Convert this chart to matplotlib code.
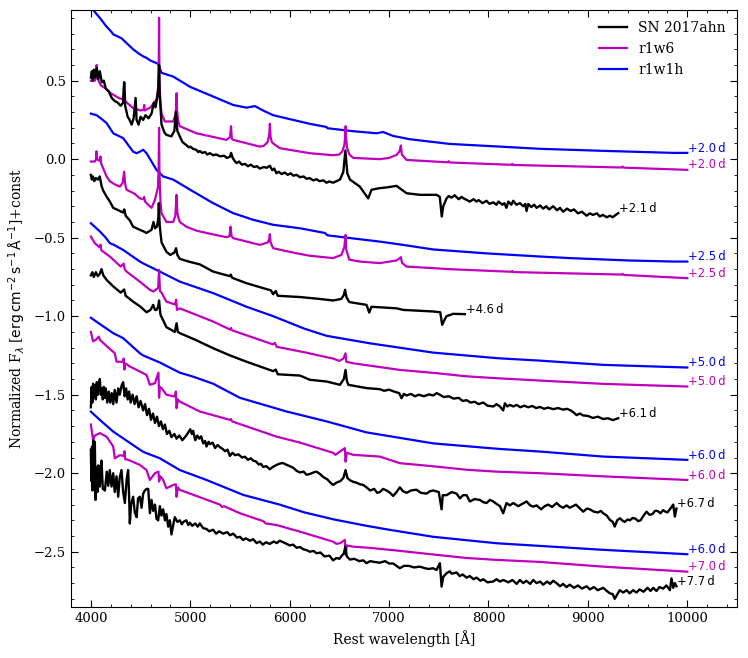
import matplotlib
matplotlib.use("Agg")
import matplotlib.pyplot as plt
from matplotlib.ticker import MultipleLocator
import numpy as np

plt.rcParams["font.family"] = "serif"
plt.rcParams["font.serif"] = ["DejaVu Serif"]
plt.rcParams["mathtext.fontset"] = "dejavusans"

# ---- observed spectra SN 2017ahn (wavelength [A], normalized flux + const) ----
sn_21 = np.array([
    (4000, 0.52), (4010, 0.56), (4020, 0.50), (4030, 0.57), (4045, 0.52), (4060, 0.58),
    (4075, 0.51), (4090, 0.56), (4110, 0.49), (4130, 0.50), (4150, 0.45), (4180, 0.43),
    (4210, 0.39), (4240, 0.37), (4270, 0.36), (4300, 0.34), (4325, 0.36), (4335, 0.49),
    (4345, 0.34), (4370, 0.27), (4390, 0.25), (4410, 0.22), (4430, 0.26), (4450, 0.39),
    (4460, 0.25), (4480, 0.22), (4500, 0.27), (4526, 0.25), (4550, 0.28), (4580, 0.26),
    (4610, 0.29), (4634, 0.36), (4650, 0.33), (4670, 0.40), (4680, 0.47), (4686, 0.60),
    (4692, 0.42), (4711, 0.22), (4740, 0.17), (4760, 0.155), (4810, 0.145), (4840, 0.18),
    (4855, 0.30), (4870, 0.18), (4895, 0.145), (4920, 0.11), (4940, 0.10), (4960, 0.09),
    (4985, 0.075), (5000, 0.08), (5030, 0.065), (5060, 0.06), (5080, 0.045), (5096, 0.052),
    (5120, 0.04), (5150, 0.045), (5170, 0.03), (5197, 0.038), (5230, 0.025), (5260, 0.03),
    (5300, 0.018), (5340, 0.022), (5370, 0.008), (5398, 0.015), (5411, 0.04), (5425, 0.01),
    (5445, -0.01), (5466, -0.025), (5490, -0.015), (5520, -0.035), (5550, -0.03),
    (5580, -0.045), (5610, -0.035), (5640, -0.05), (5670, -0.045), (5700, -0.06),
    (5740, -0.05), (5770, -0.055), (5800, -0.042), (5825, -0.07), (5845, -0.06),
    (5867, -0.09), (5890, -0.08), (5920, -0.095), (5950, -0.085), (5980, -0.10),
    (6010, -0.09), (6035, -0.105), (6070, -0.10), (6103, -0.115), (6140, -0.11),
    (6170, -0.125), (6200, -0.12), (6237, -0.135), (6270, -0.128), (6300, -0.14),
    (6340, -0.135), (6370, -0.15), (6400, -0.142), (6437, -0.15), (6470, -0.14),
    (6506, -0.13), (6540, -0.08), (6560, 0.055), (6580, -0.09), (6607, -0.13),
    (6706, -0.175), (6790, -0.25), (6823, -0.195), (6900, -0.185), (6975, -0.18),
    (7075, -0.17), (7176, -0.217), (7310, -0.227), (7478, -0.227), (7510, -0.24),
    (7530, -0.365), (7545, -0.30), (7578, -0.25), (7600, -0.235), (7629, -0.245),
    (7660, -0.23), (7700, -0.255), (7730, -0.24), (7750, -0.25), (7780, -0.26),
    (7812, -0.27), (7850, -0.255), (7880, -0.27), (7900, -0.26), (7940, -0.28),
    (7980, -0.265), (8010, -0.285), (8047, -0.275), (8080, -0.29), (8100, -0.27),
    (8140, -0.29), (8160, -0.28), (8180, -0.31), (8200, -0.27), (8230, -0.29),
    (8249, -0.265), (8280, -0.29), (8316, -0.28), (8350, -0.30), (8370, -0.285),
    (8383, -0.33), (8400, -0.285), (8430, -0.305), (8460, -0.29), (8484, -0.31),
    (8520, -0.295), (8550, -0.315), (8580, -0.30), (8610, -0.32), (8650, -0.30),
    (8690, -0.325), (8720, -0.31), (8750, -0.335), (8790, -0.315), (8827, -0.33),
    (8860, -0.32), (8900, -0.345), (8940, -0.335), (8987, -0.36), (9020, -0.345),
    (9050, -0.355), (9090, -0.345), (9120, -0.365), (9150, -0.355), (9190, -0.37),
    (9221, -0.36), (9250, -0.37), (9280, -0.355), (9305, -0.344)])

sn_46 = np.array([
    (4000, -0.10), (4010, -0.13), (4020, -0.11), (4035, -0.14), (4050, -0.12), (4070, -0.13),
    (4090, -0.11), (4107, -0.17), (4124, -0.20), (4160, -0.24), (4191, -0.27), (4225, -0.31),
    (4292, -0.33), (4325, -0.34), (4336, -0.32), (4350, -0.36), (4392, -0.39), (4425, -0.43),
    (4493, -0.45), (4530, -0.46), (4560, -0.47), (4610, -0.45), (4630, -0.40), (4645, -0.44),
    (4665, -0.43), (4678, -0.38), (4684, -0.28), (4692, -0.42), (4711, -0.53), (4760, -0.59),
    (4800, -0.61), (4840, -0.595), (4857, -0.567), (4870, -0.61), (4895, -0.635),
    (5000, -0.655), (5096, -0.67), (5230, -0.716), (5398, -0.745), (5408, -0.735),
    (5420, -0.755), (5566, -0.79), (5780, -0.83), (5810, -0.835), (5834, -0.86),
    (5860, -0.84), (5880, -0.87), (6103, -0.878), (6300, -0.89), (6437, -0.90),
    (6520, -0.89), (6545, -0.865), (6557, -0.832), (6572, -0.88), (6600, -0.91),
    (6773, -0.928), (6800, -0.977), (6823, -0.94), (7075, -0.95), (7142, -0.96),
    (7444, -0.97), (7515, -0.975), (7534, -1.055), (7560, -1.02), (7578, -1.0),
    (7645, -0.985), (7762, -0.987)])

sn_61 = np.array([
    (4000, -0.74), (4015, -0.72), (4030, -0.75), (4050, -0.72), (4070, -0.745), (4090, -0.73),
    (4107, -0.70), (4125, -0.74), (4160, -0.77), (4225, -0.81), (4300, -0.85), (4335, -0.83),
    (4350, -0.87), (4425, -0.907), (4500, -0.94), (4560, -0.975), (4600, -0.96),
    (4627, -0.928), (4645, -0.96), (4660, -0.96), (4677, -0.94), (4686, -0.90), (4700, -0.99),
    (4760, -1.07), (4845, -1.10), (4862, -1.045), (4875, -1.10), (4895, -1.108),
    (5050, -1.15), (5230, -1.204), (5400, -1.25), (5566, -1.29), (5700, -1.32),
    (5834, -1.35), (5860, -1.34), (5880, -1.37), (6103, -1.378), (6203, -1.405),
    (6371, -1.416), (6506, -1.437), (6545, -1.40), (6562, -1.342), (6575, -1.41),
    (6590, -1.437), (6773, -1.458), (6907, -1.465), (6950, -1.475), (7000, -1.468),
    (7050, -1.48), (7102, -1.49), (7125, -1.522), (7150, -1.495), (7176, -1.505),
    (7220, -1.495), (7260, -1.51), (7300, -1.50), (7350, -1.51), (7400, -1.498),
    (7444, -1.505), (7478, -1.49), (7510, -1.50), (7550, -1.515), (7600, -1.51),
    (7650, -1.525), (7700, -1.52), (7740, -1.54), (7780, -1.535), (7820, -1.55),
    (7860, -1.545), (7900, -1.56), (7946, -1.55), (7990, -1.57), (8050, -1.575),
    (8080, -1.56), (8115, -1.575), (8148, -1.60), (8165, -1.555), (8190, -1.575),
    (8215, -1.565), (8250, -1.575), (8283, -1.565), (8320, -1.58), (8360, -1.57),
    (8400, -1.58), (8440, -1.572), (8480, -1.585), (8517, -1.578), (8560, -1.59),
    (8600, -1.582), (8650, -1.592), (8700, -1.585), (8750, -1.595), (8790, -1.59),
    (8827, -1.60), (8860, -1.615), (8886, -1.63), (8920, -1.62), (8950, -1.632),
    (9000, -1.635), (9050, -1.648), (9100, -1.64), (9154, -1.655), (9200, -1.65),
    (9254, -1.662), (9280, -1.655), (9305, -1.65)])

sn_67 = np.array([
    (4000, -1.58), (4008, -1.45), (4015, -1.55), (4023, -1.43), (4032, -1.52), (4040, -1.44),
    (4050, -1.53), (4060, -1.42), (4070, -1.50), (4080, -1.44), (4090, -1.40), (4100, -1.50),
    (4110, -1.46), (4120, -1.53), (4130, -1.45), (4140, -1.52), (4150, -1.46), (4165, -1.55),
    (4180, -1.48), (4195, -1.55), (4210, -1.49), (4225, -1.56), (4240, -1.47), (4258, -1.55),
    (4275, -1.46), (4290, -1.50), (4310, -1.44), (4325, -1.42), (4340, -1.51), (4355, -1.46),
    (4370, -1.53), (4385, -1.48), (4400, -1.55), (4420, -1.50), (4440, -1.56), (4460, -1.51),
    (4480, -1.58), (4500, -1.54), (4526, -1.60), (4545, -1.56), (4565, -1.63), (4585, -1.59),
    (4605, -1.66), (4625, -1.62), (4645, -1.68), (4665, -1.64), (4685, -1.70), (4705, -1.67),
    (4725, -1.72), (4745, -1.69), (4765, -1.75), (4790, -1.73), (4810, -1.77), (4840, -1.75),
    (4862, -1.78), (4890, -1.76), (4920, -1.79), (4960, -1.76), (5000, -1.72), (5015, -1.75),
    (5029, -1.73), (5050, -1.79), (5070, -1.76), (5090, -1.78), (5110, -1.765),
    (5130, -1.81), (5150, -1.795), (5163, -1.83), (5185, -1.80), (5200, -1.815),
    (5225, -1.805), (5250, -1.84), (5275, -1.82), (5300, -1.835), (5325, -1.845),
    (5350, -1.86), (5375, -1.85), (5398, -1.89), (5425, -1.87), (5450, -1.885),
    (5485, -1.88), (5520, -1.90), (5550, -1.895), (5580, -1.915), (5610, -1.905),
    (5633, -1.92), (5660, -1.925), (5690, -1.945), (5710, -1.94), (5733, -1.96),
    (5765, -1.955), (5800, -1.975), (5830, -1.96), (5860, -1.95), (5895, -1.94),
    (5930, -1.935), (5965, -1.945), (6000, -1.955), (6035, -1.965), (6070, -1.985),
    (6103, -1.995), (6140, -1.99), (6170, -2.01), (6203, -2.005), (6240, -1.995),
    (6270, -1.99), (6305, -2.005), (6340, -2.025), (6380, -2.04), (6410, -2.06),
    (6437, -2.075), (6470, -2.06), (6510, -2.05), (6540, -2.03), (6562, -1.98),
    (6580, -2.03), (6607, -2.045), (6640, -2.055), (6670, -2.06), (6706, -2.07),
    (6740, -2.075), (6773, -2.09), (6810, -2.11), (6850, -2.10), (6880, -2.125),
    (6907, -2.12), (6940, -2.10), (6975, -2.11), (7010, -2.125), (7041, -2.145),
    (7075, -2.12), (7108, -2.09), (7140, -2.115), (7176, -2.125), (7220, -2.11),
    (7276, -2.105), (7320, -2.125), (7377, -2.13), (7410, -2.115), (7444, -2.11),
    (7500, -2.12), (7528, -2.23), (7540, -2.14), (7578, -2.14), (7630, -2.12),
    (7679, -2.13), (7712, -2.16), (7745, -2.14), (7780, -2.14), (7812, -2.18),
    (7860, -2.165), (7913, -2.17), (7950, -2.185), (7980, -2.19), (8015, -2.17),
    (8047, -2.18), (8080, -2.195), (8115, -2.21), (8148, -2.255), (8181, -2.19),
    (8215, -2.205), (8249, -2.19), (8300, -2.21), (8340, -2.195), (8383, -2.18),
    (8420, -2.205), (8450, -2.213), (8484, -2.205), (8530, -2.23), (8565, -2.21),
    (8600, -2.20), (8640, -2.215), (8685, -2.19), (8720, -2.21), (8750, -2.22),
    (8785, -2.205), (8817, -2.22), (8850, -2.21), (8880, -2.20), (8920, -2.225),
    (8953, -2.245), (8990, -2.225), (9020, -2.23), (9060, -2.245), (9100, -2.25),
    (9130, -2.24), (9154, -2.255), (9190, -2.27), (9221, -2.297), (9250, -2.31),
    (9270, -2.34), (9295, -2.30), (9321, -2.287), (9345, -2.30), (9370, -2.31),
    (9400, -2.295), (9422, -2.30), (9450, -2.285), (9480, -2.29), (9505, -2.305),
    (9530, -2.30), (9560, -2.27), (9590, -2.245), (9620, -2.265), (9650, -2.26),
    (9675, -2.24), (9700, -2.24), (9730, -2.255), (9757, -2.235), (9780, -2.245),
    (9800, -2.25), (9830, -2.225), (9858, -2.20), (9875, -2.276), (9891, -2.225)])

sn_77 = np.array([
    (4000, -1.85), (4005, -2.05), (4012, -1.83), (4017, -2.11), (4023, -1.79), (4032, -2.03),
    (4040, -1.80), (4047, -2.17), (4057, -1.96), (4066, -2.12), (4075, -1.95), (4090, -2.085),
    (4100, -1.97), (4107, -1.92), (4120, -2.10), (4141, -2.11), (4160, -1.99), (4175, -2.08),
    (4190, -1.98), (4208, -2.085), (4225, -2.0), (4240, -2.12), (4258, -2.02), (4275, -2.15),
    (4290, -2.03), (4308, -1.98), (4325, -2.12), (4342, -2.19), (4360, -2.04), (4375, -1.98),
    (4385, -2.15), (4392, -2.32), (4405, -2.20), (4425, -2.15), (4442, -2.25), (4460, -2.28),
    (4475, -2.16), (4493, -2.15), (4510, -2.22), (4526, -2.13), (4543, -2.11), (4560, -2.10),
    (4577, -2.10), (4594, -2.255), (4610, -2.17), (4627, -2.24), (4645, -2.20), (4660, -2.29),
    (4677, -2.30), (4694, -2.21), (4710, -2.27), (4727, -2.23), (4745, -2.30), (4760, -2.26),
    (4778, -2.34), (4795, -2.30), (4811, -2.39), (4828, -2.33), (4845, -2.28), (4870, -2.31),
    (4895, -2.30), (4915, -2.325), (4930, -2.31), (4960, -2.30), (4980, -2.33),
    (4996, -2.315), (5020, -2.335), (5050, -2.32), (5075, -2.34), (5096, -2.32),
    (5130, -2.35), (5163, -2.355), (5190, -2.37), (5230, -2.36), (5260, -2.385),
    (5290, -2.37), (5331, -2.385), (5370, -2.375), (5400, -2.395), (5432, -2.385),
    (5470, -2.41), (5500, -2.405), (5530, -2.425), (5560, -2.415), (5600, -2.43),
    (5633, -2.42), (5667, -2.445), (5700, -2.435), (5730, -2.455), (5760, -2.44),
    (5800, -2.45), (5840, -2.435), (5870, -2.445), (5900, -2.43), (5935, -2.44),
    (5970, -2.45), (6000, -2.46), (6035, -2.455), (6070, -2.475), (6103, -2.47),
    (6140, -2.485), (6170, -2.49), (6203, -2.50), (6240, -2.495), (6270, -2.51),
    (6310, -2.505), (6350, -2.53), (6400, -2.525), (6437, -2.555), (6470, -2.54),
    (6500, -2.545), (6545, -2.51), (6560, -2.468), (6575, -2.53), (6607, -2.55),
    (6650, -2.545), (6700, -2.56), (6740, -2.555), (6773, -2.573), (6810, -2.56),
    (6850, -2.565), (6907, -2.57), (6960, -2.56), (7000, -2.575), (7041, -2.575),
    (7075, -2.59), (7108, -2.605), (7150, -2.59), (7200, -2.59), (7250, -2.6),
    (7310, -2.595), (7360, -2.605), (7400, -2.61), (7440, -2.605), (7478, -2.616),
    (7511, -2.573), (7528, -2.722), (7545, -2.66), (7578, -2.637), (7610, -2.625),
    (7630, -2.64), (7679, -2.632), (7710, -2.655), (7740, -2.645), (7780, -2.665),
    (7812, -2.655), (7850, -2.675), (7880, -2.665), (7920, -2.685), (7946, -2.675),
    (7990, -2.695), (8047, -2.69), (8080, -2.675), (8115, -2.69), (8150, -2.68),
    (8200, -2.695), (8240, -2.68), (8283, -2.705), (8316, -2.68), (8350, -2.70),
    (8380, -2.685), (8420, -2.705), (8450, -2.68), (8484, -2.70), (8520, -2.69),
    (8550, -2.71), (8590, -2.69), (8620, -2.705), (8650, -2.685), (8685, -2.70),
    (8720, -2.72), (8750, -2.705), (8785, -2.725), (8817, -2.71), (8860, -2.73),
    (8900, -2.715), (8940, -2.735), (8987, -2.72), (9020, -2.74), (9060, -2.725),
    (9100, -2.745), (9154, -2.73), (9190, -2.75), (9221, -2.765), (9250, -2.77),
    (9270, -2.80), (9288, -2.78), (9320, -2.745), (9355, -2.76), (9390, -2.745),
    (9420, -2.765), (9455, -2.745), (9489, -2.76), (9520, -2.74), (9560, -2.755),
    (9600, -2.73), (9630, -2.75), (9657, -2.73), (9690, -2.75), (9720, -2.725),
    (9757, -2.735), (9790, -2.715), (9825, -2.745), (9841, -2.67), (9858, -2.73),
    (9875, -2.70), (9891, -2.72)])

# ---- model r1w6 ----
w6_20 = np.array([
    (4000, 0.50), (4040, 0.50), (4052, 0.52), (4058, 0.60), (4064, 0.52), (4100, 0.47),
    (4150, 0.45), (4200, 0.42), (4280, 0.39), (4325, 0.38), (4335, 0.49), (4345, 0.37),
    (4425, 0.325), (4500, 0.31), (4530, 0.315), (4536, 0.345), (4542, 0.31), (4600, 0.33),
    (4660, 0.38), (4675, 0.44), (4682, 0.55), (4686, 0.90), (4690, 0.50), (4700, 0.36),
    (4711, 0.29), (4745, 0.24), (4828, 0.24), (4850, 0.28), (4858, 0.33), (4862, 0.42),
    (4867, 0.31), (4880, 0.24), (4895, 0.21), (5062, 0.165), (5364, 0.123), (5400, 0.14),
    (5410, 0.21), (5418, 0.13), (5432, 0.123), (5700, 0.08), (5740, 0.085), (5780, 0.11),
    (5795, 0.16), (5801, 0.225), (5808, 0.14), (5820, 0.11), (5834, 0.10), (5900, 0.07),
    (6203, 0.038), (6436, 0.025), (6500, 0.03), (6530, 0.05), (6550, 0.09), (6558, 0.14),
    (6563, 0.21), (6568, 0.13), (6578, 0.07), (6600, 0.03), (6640, 0.008), (6907, 0.0),
    (7000, 0.008), (7075, 0.027), (7105, 0.05), (7119, 0.087), (7128, 0.03), (7176, -0.005),
    (7591, -0.02), (7600, -0.013), (7610, -0.021), (8232, -0.036), (8240, -0.03),
    (8250, -0.037), (9340, -0.053), (9350, -0.047), (9360, -0.054), (10000, -0.068)])

w6_25 = np.array([
    (4000, -0.015), (4040, -0.015), (4052, 0.0), (4057, 0.05), (4062, 0.0), (4085, -0.01),
    (4097, 0.017), (4105, -0.03), (4158, -0.11), (4191, -0.14), (4240, -0.16), (4292, -0.175),
    (4320, -0.15), (4335, -0.08), (4345, -0.16), (4360, -0.195), (4440, -0.22), (4493, -0.25),
    (4530, -0.255), (4536, -0.24), (4545, -0.27), (4560, -0.28), (4610, -0.31), (4644, -0.26),
    (4675, -0.18), (4682, -0.05), (4686, 0.20), (4690, -0.08), (4700, -0.27), (4711, -0.344),
    (4760, -0.40), (4828, -0.40), (4850, -0.36), (4862, -0.227), (4870, -0.34), (4880, -0.37),
    (4895, -0.40), (4960, -0.43), (5062, -0.455), (5163, -0.47), (5364, -0.497),
    (5395, -0.49), (5405, -0.43), (5415, -0.49), (5432, -0.503), (5700, -0.546),
    (5780, -0.53), (5795, -0.51), (5800, -0.478), (5808, -0.53), (5834, -0.567),
    (6035, -0.595), (6200, -0.615), (6437, -0.63), (6520, -0.61), (6550, -0.56),
    (6562, -0.482), (6570, -0.58), (6600, -0.64), (6706, -0.652), (6907, -0.662),
    (7075, -0.645), (7110, -0.63), (7119, -0.624), (7130, -0.66), (7176, -0.684),
    (7444, -0.694), (7591, -0.70), (8115, -0.714), (8232, -0.717), (8240, -0.712),
    (8250, -0.719), (9340, -0.735), (9350, -0.73), (9360, -0.737), (10000, -0.758)])

w6_50 = np.array([
    (4000, -0.493), (4040, -0.535), (4085, -0.56), (4097, -0.545), (4105, -0.58),
    (4191, -0.62), (4300, -0.684), (4330, -0.665), (4340, -0.70), (4360, -0.716),
    (4493, -0.78), (4594, -0.832), (4627, -0.843), (4677, -0.82), (4686, -0.705),
    (4695, -0.84), (4711, -0.85), (4760, -0.907), (4845, -0.925), (4858, -0.895),
    (4866, -0.96), (4895, -0.95), (5230, -1.034), (5400, -1.085), (5410, -1.075),
    (5420, -1.09), (5834, -1.18), (5850, -1.17), (5870, -1.195), (6150, -1.23),
    (6437, -1.27), (6500, -1.285), (6540, -1.27), (6562, -1.236), (6570, -1.29),
    (6640, -1.30), (7108, -1.342), (7478, -1.363), (7780, -1.383), (8081, -1.395),
    (8517, -1.41), (9154, -1.431), (10000, -1.448)])

w6_60 = np.array([
    (4000, -1.10), (4023, -1.16), (4050, -1.15), (4080, -1.13), (4090, -1.15), (4158, -1.19),
    (4241, -1.236), (4258, -1.29), (4325, -1.29), (4330, -1.27), (4337, -1.34), (4345, -1.30),
    (4392, -1.32), (4560, -1.374), (4594, -1.437), (4644, -1.427), (4680, -1.36),
    (4686, -1.52), (4695, -1.45), (4711, -1.458), (4760, -1.50), (4845, -1.512),
    (4855, -1.48), (4862, -1.586), (4875, -1.53), (4895, -1.544), (5096, -1.607),
    (5398, -1.66), (5410, -1.655), (5420, -1.67), (5767, -1.745), (5868, -1.767),
    (6103, -1.805), (6437, -1.87), (6460, -1.883), (6506, -1.862), (6555, -1.84),
    (6562, -1.926), (6575, -1.87), (6640, -1.883), (6907, -1.894), (7108, -1.936),
    (7478, -1.958), (7780, -1.978), (8081, -1.99), (8517, -2.0), (9154, -2.02),
    (10000, -2.043)])

w6_70 = np.array([
    (4000, -1.69), (4023, -1.79), (4040, -1.76), (4090, -1.745), (4158, -1.767),
    (4225, -1.83), (4241, -1.905), (4292, -1.885), (4330, -1.89), (4338, -1.86),
    (4345, -1.91), (4375, -1.915), (4493, -1.947), (4560, -1.98), (4594, -2.043),
    (4644, -2.0), (4680, -1.99), (4686, -2.053), (4700, -2.02), (4727, -2.043),
    (4760, -2.096), (4828, -2.075), (4855, -2.07), (4862, -2.15), (4875, -2.09),
    (4895, -2.106), (5298, -2.2), (5320, -2.215), (5340, -2.21), (5500, -2.255),
    (5733, -2.305), (5760, -2.32), (5868, -2.33), (6103, -2.372), (6437, -2.436),
    (6470, -2.45), (6506, -2.446), (6555, -2.425), (6562, -2.52), (6575, -2.46),
    (6640, -2.468), (6800, -2.475), (7041, -2.49), (7478, -2.52), (7780, -2.54),
    (8081, -2.552), (8517, -2.565), (9154, -2.595), (10000, -2.627)])

# ---- model r1w1h ----
w1h_20 = np.array([
    (4000, 0.98), (4023, 0.95), (4090, 0.90), (4150, 0.85), (4208, 0.81), (4225, 0.795),
    (4308, 0.77), (4425, 0.70), (4476, 0.675), (4526, 0.655), (4560, 0.645), (4594, 0.63),
    (4677, 0.607), (4711, 0.55), (4828, 0.526), (5000, 0.46), (5264, 0.39), (5432, 0.345),
    (5566, 0.328), (5650, 0.338), (5733, 0.31), (5834, 0.28), (6035, 0.25), (6203, 0.225),
    (6371, 0.205), (6380, 0.197), (6640, 0.178), (6874, 0.165), (6940, 0.173),
    (7040, 0.148), (7210, 0.127), (7611, 0.097), (8115, 0.08), (8517, 0.066),
    (9154, 0.053), (9858, 0.04), (10000, 0.04)])

w1h_25 = np.array([
    (4000, 0.29), (4057, 0.28), (4100, 0.26), (4158, 0.23), (4225, 0.165), (4240, 0.16),
    (4325, 0.134), (4425, 0.048), (4460, 0.038), (4500, 0.05), (4526, 0.06), (4560, 0.038),
    (4660, -0.068), (4727, -0.11), (4828, -0.13), (5029, -0.206), (5230, -0.28),
    (5432, -0.344), (5633, -0.386), (5834, -0.418), (6103, -0.44), (6354, -0.47),
    (6380, -0.485), (6640, -0.505), (6907, -0.525), (7142, -0.546), (7444, -0.575),
    (7981, -0.60), (8517, -0.62), (8817, -0.63), (9400, -0.645), (9858, -0.652),
    (10000, -0.652)])

w1h_50 = np.array([
    (4000, -0.408), (4090, -0.46), (4150, -0.50), (4191, -0.535), (4230, -0.545),
    (4325, -0.578), (4493, -0.652), (4530, -0.665), (4694, -0.716), (4895, -0.78),
    (5230, -0.853), (5566, -0.94), (5834, -1.0), (6150, -1.08), (6371, -1.125),
    (6800, -1.172), (7444, -1.232), (8100, -1.268), (8517, -1.283), (9154, -1.31),
    (10000, -1.327)])

w1h_60 = np.array([
    (4000, -1.01), (4090, -1.05), (4225, -1.108), (4325, -1.14), (4493, -1.236),
    (4526, -1.25), (4694, -1.295), (4895, -1.36), (5029, -1.385), (5230, -1.43),
    (5500, -1.52), (5969, -1.607), (6371, -1.67), (6773, -1.74), (7444, -1.81),
    (8100, -1.845), (8517, -1.862), (9154, -1.894), (10000, -1.915)])

w1h_60b = np.array([
    (4000, -1.608), (4090, -1.66), (4225, -1.735), (4260, -1.75), (4493, -1.85),
    (4530, -1.865), (4694, -1.905), (4895, -1.98), (5163, -2.043), (5532, -2.138),
    (5900, -2.2), (6150, -2.25), (6450, -2.295), (6773, -2.335), (7000, -2.36),
    (7444, -2.405), (8081, -2.446), (8517, -2.463), (9154, -2.488), (10000, -2.516)])

obs = [sn_21, sn_46, sn_61, sn_67, sn_77]
obs_epochs = ["+2.1", "+4.6", "+6.1", "+6.7", "+7.7"]
r1w6 = [w6_20, w6_25, w6_50, w6_60, w6_70]
r1w6_epochs = ["+2.0", "+2.5", "+5.0", "+6.0", "+7.0"]
r1w1h = [w1h_20, w1h_25, w1h_50, w1h_60, w1h_60b]
r1w1h_epochs = ["+2.0", "+2.5", "+5.0", "+6.0", "+6.0"]

fig = plt.figure(figsize=(7.48, 6.58), dpi=100)
ax = fig.add_axes([0.0949, 0.078, 0.8904, 0.9068])


def label(spec, txt, col):
    ax.annotate(txt + "\u2009d", xy=(spec[-1, 0], spec[-1, 1]), xytext=(0.5, 3.5),
                textcoords="offset points", ha="left", va="center", fontsize=8.3,
                color=col, family="DejaVu Sans")


for i, spec in enumerate(r1w1h):
    ax.plot(spec[:, 0], spec[:, 1], color="b", lw=1.6, zorder=1,
            label="r1w1h" if i == 0 else None)
    label(spec, r1w1h_epochs[i], "b")
for i, spec in enumerate(r1w6):
    ax.plot(spec[:, 0], spec[:, 1], color="m", lw=1.6, zorder=2,
            label="r1w6" if i == 0 else None)
    label(spec, r1w6_epochs[i], "m")
for i, spec in enumerate(obs):
    ax.plot(spec[:, 0], spec[:, 1], color="k", lw=1.7, zorder=3,
            label="SN 2017ahn" if i == 0 else None)
    label(spec, obs_epochs[i], "k")

ax.set_xlim(3800, 10500)
ax.set_ylim(-2.85, 0.95)
ax.xaxis.set_major_locator(MultipleLocator(1000))
ax.xaxis.set_minor_locator(MultipleLocator(200))
ax.yaxis.set_major_locator(MultipleLocator(0.5))
ax.yaxis.set_minor_locator(MultipleLocator(0.1))
ax.tick_params(which="both", direction="in", top=True, right=True, labelsize=9.5)
ax.tick_params(which="major", length=5)
ax.tick_params(which="minor", length=2.5)

ax.set_xlabel("Rest wavelength [Å]", fontsize=10)
ax.set_ylabel(r"Normalized F$_\lambda$ [$\rm erg\,cm^{-2}\,s^{-1}\,\AA^{-1}$]+const", fontsize=10)

h, l = ax.get_legend_handles_labels()
order = [2, 1, 0]
ax.legend([h[k] for k in order], [l[k] for k in order], loc="upper right", frameon=False,
          fontsize=10, handlelength=2.0, borderaxespad=0.4)

plt.savefig("out.png", dpi=100)
